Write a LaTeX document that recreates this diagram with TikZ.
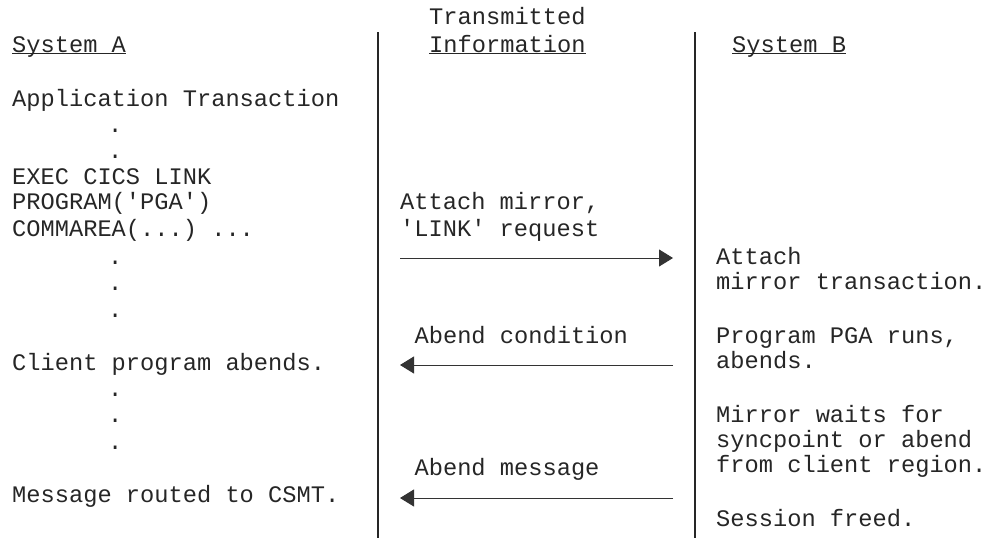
\documentclass[tikz,border=0pt]{standalone}
\usepackage{fontspec}
\setmonofont{Liberation Mono}
\usetikzlibrary{arrows.meta}
\tikzset{
  txt/.style={anchor=base west, inner sep=0pt, text=black!85,
    font=\ttfamily\fontsize{23.7}{26}\selectfont},
  uline/.style={line width=1.6pt, black!85},
  lane/.style={line width=1.3pt, black!85},
  msg/.style={line width=1pt, black!80, -{Triangle[length=14pt,width=17pt]}}
}
\begin{document}
\begin{tikzpicture}[x=1pt,y=-1pt]
      \useasboundingbox (0,0) rectangle (987,538);
      % headings
      \draw
        (12,52) node[txt] (sysa){System A}
        (429,24) node[txt] (trans){Transmitted}
        (429,52) node[txt] (info){Information}
        (732,52) node[txt] (sysb){System B};
      % system A
      \draw
        (12,106) node[txt] (app){Application Transaction}
        (108,132.4) node[txt] (d1){.}
        (108,158.8) node[txt] (d2){.}
        (12,184) node[txt] (exec){EXEC CICS LINK}
        (12,209) node[txt] (prog){PROGRAM('PGA')}
        (12,236) node[txt] (comm){COMMAREA(...) ...}
        (108,264.4) node[txt] (d3){.}
        (108,290.8) node[txt] (d4){.}
        (108,317.2) node[txt] (d5){.}
        (12,370) node[txt] (abnd){Client program abends.}
        (108,396.4) node[txt] (d6){.}
        (108,422.8) node[txt] (d7){.}
        (108,449.2) node[txt] (d8){.}
        (12,502) node[txt] (rout){Message routed to CSMT.};
      % transmitted information
      \draw
        (400,209) node[txt] (att){Attach mirror,}
        (400,236) node[txt] (link){'LINK' request}
        (414.4,343.6) node[txt] (cond){Abend condition}
        (414.4,475.6) node[txt] (mess){Abend message};
      % system B
      \draw
        (716,264.4) node[txt] (batt){Attach}
        (716,289) node[txt] (bmir){mirror transaction.}
        (716,343.6) node[txt] (brun){Program PGA runs,}
        (716,368) node[txt] (babn){abends.}
        (716,422.8) node[txt] (bwai){Mirror waits for}
        (716,447.5) node[txt] (bsyn){syncpoint or abend}
        (716,472) node[txt] (bfro){from client region.}
        (716,526) node[txt] (bses){Session freed.};
      \coordinate (t1) at (378,32);
      \coordinate (b1) at (378,538);
      \coordinate (t2) at (695,32);
      \coordinate (b2) at (695,538);
      \coordinate (l1) at (400,258);
      \coordinate (r1) at (673,258);
      \coordinate (l2) at (400,365);
      \coordinate (r2) at (673,365);
      \coordinate (l3) at (400,498);
      \coordinate (r3) at (673,498);
      \begin{scope}[uline]
        \draw ([yshift=-1.5pt]sysa.base west) to ([yshift=-1.5pt]sysa.base east);
        \draw ([yshift=-1.5pt]info.base west) to ([yshift=-1.5pt]info.base east);
        \draw ([yshift=-1.5pt]sysb.base west) to ([yshift=-1.5pt]sysb.base east);
      \end{scope}
      \begin{scope}[lane]
        \draw (t1) to (b1);
        \draw (t2) to (b2);
      \end{scope}
      \begin{scope}[msg]
        \draw (l1) to (r1);
        \draw (r2) to (l2);
        \draw (r3) to (l3);
      \end{scope}
    \end{tikzpicture}
\end{document}
